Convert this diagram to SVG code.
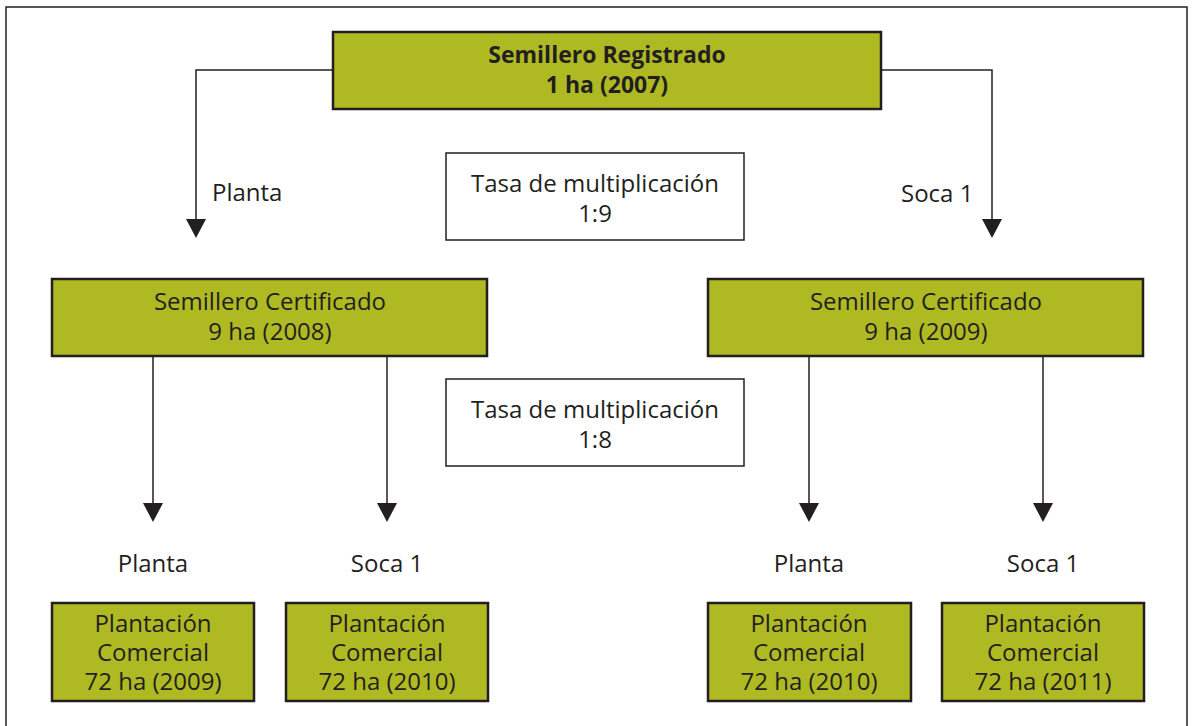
<svg xmlns="http://www.w3.org/2000/svg" width="1192" height="726" viewBox="0 0 1192 726">
<defs>
<style>
text{font-family:"Open Sans","Noto Sans","Liberation Sans",sans-serif;font-size:24px;fill:#231f20;text-anchor:middle}
.b{font-weight:bold;font-size:23px}
.g{fill:#afba23;stroke:#231f20;stroke-width:2.5}
.w{fill:#fff;stroke:#231f20;stroke-width:1.5}
.c{fill:none;stroke:#231f20;stroke-width:1.5}
.a{fill:#231f20}
.l{text-anchor:start}
</style>
</defs>
<rect x="0" y="0" width="1192" height="726" fill="#fff"/>
<rect x="6" y="7" width="1181" height="730" fill="none" stroke="#231f20" stroke-width="1.5"/>
<g id="connectors">
<path class="c" d="M333,70 H196 V219" />
<path class="a" d="M186,219 L206,219 L196,238 Z"/>
<path class="c" d="M881,70 H992 V219" />
<path class="a" d="M982,219 L1002,219 L992,238 Z"/>
<path class="c" d="M153,357 V503"/>
<path class="a" d="M143,503 L163,503 L153,522 Z"/>
<path class="c" d="M387,357 V503"/>
<path class="a" d="M377,503 L397,503 L387,522 Z"/>
<path class="c" d="M809,357 V503"/>
<path class="a" d="M799,503 L819,503 L809,522 Z"/>
<path class="c" d="M1043,357 V503"/>
<path class="a" d="M1033,503 L1053,503 L1043,522 Z"/>
<text class="l" x="212" y="201">Planta</text>
<text class="l" x="901" y="202">Soca 1</text>
<text x="153" y="572">Planta</text>
<text x="387" y="572">Soca 1</text>
<text x="809" y="572">Planta</text>
<text x="1043" y="572">Soca 1</text>
</g>
<g id="registrado">
<rect class="g" x="333" y="32" width="548" height="77"/>
<text class="b" x="607" y="63">Semillero Registrado</text>
<text class="b" x="607" y="93">1 ha (2007)</text>
</g>
<g id="tasa1">
<rect class="w" x="446" y="153" width="298" height="87"/>
<text x="595" y="192">Tasa de multiplicación</text>
<text x="595" y="222">1:9</text>
</g>
<g id="cert2008">
<rect class="g" x="52" y="279" width="435" height="77"/>
<text x="270" y="310">Semillero Certificado</text>
<text x="270" y="340">9 ha (2008)</text>
</g>
<g id="cert2009">
<rect class="g" x="708" y="279" width="435" height="77"/>
<text x="926" y="310">Semillero Certificado</text>
<text x="926" y="340">9 ha (2009)</text>
</g>
<g id="tasa2">
<rect class="w" x="446" y="379" width="298" height="87"/>
<text x="595" y="418">Tasa de multiplicación</text>
<text x="595" y="448">1:8</text>
</g>
<g id="pc2009">
<rect class="g" x="52" y="603" width="202" height="98"/>
<text x="153" y="632">Plantación</text>
<text x="153" y="661">Comercial</text>
<text x="153" y="690">72 ha (2009)</text>
</g>
<g id="pc2010a">
<rect class="g" x="286" y="603" width="202" height="98"/>
<text x="387" y="632">Plantación</text>
<text x="387" y="661">Comercial</text>
<text x="387" y="690">72 ha (2010)</text>
</g>
<g id="pc2010b">
<rect class="g" x="708" y="603" width="203" height="98"/>
<text x="809" y="632">Plantación</text>
<text x="809" y="661">Comercial</text>
<text x="809" y="690">72 ha (2010)</text>
</g>
<g id="pc2011">
<rect class="g" x="942" y="603" width="202" height="98"/>
<text x="1043" y="632">Plantación</text>
<text x="1043" y="661">Comercial</text>
<text x="1043" y="690">72 ha (2011)</text>
</g>
</svg>
